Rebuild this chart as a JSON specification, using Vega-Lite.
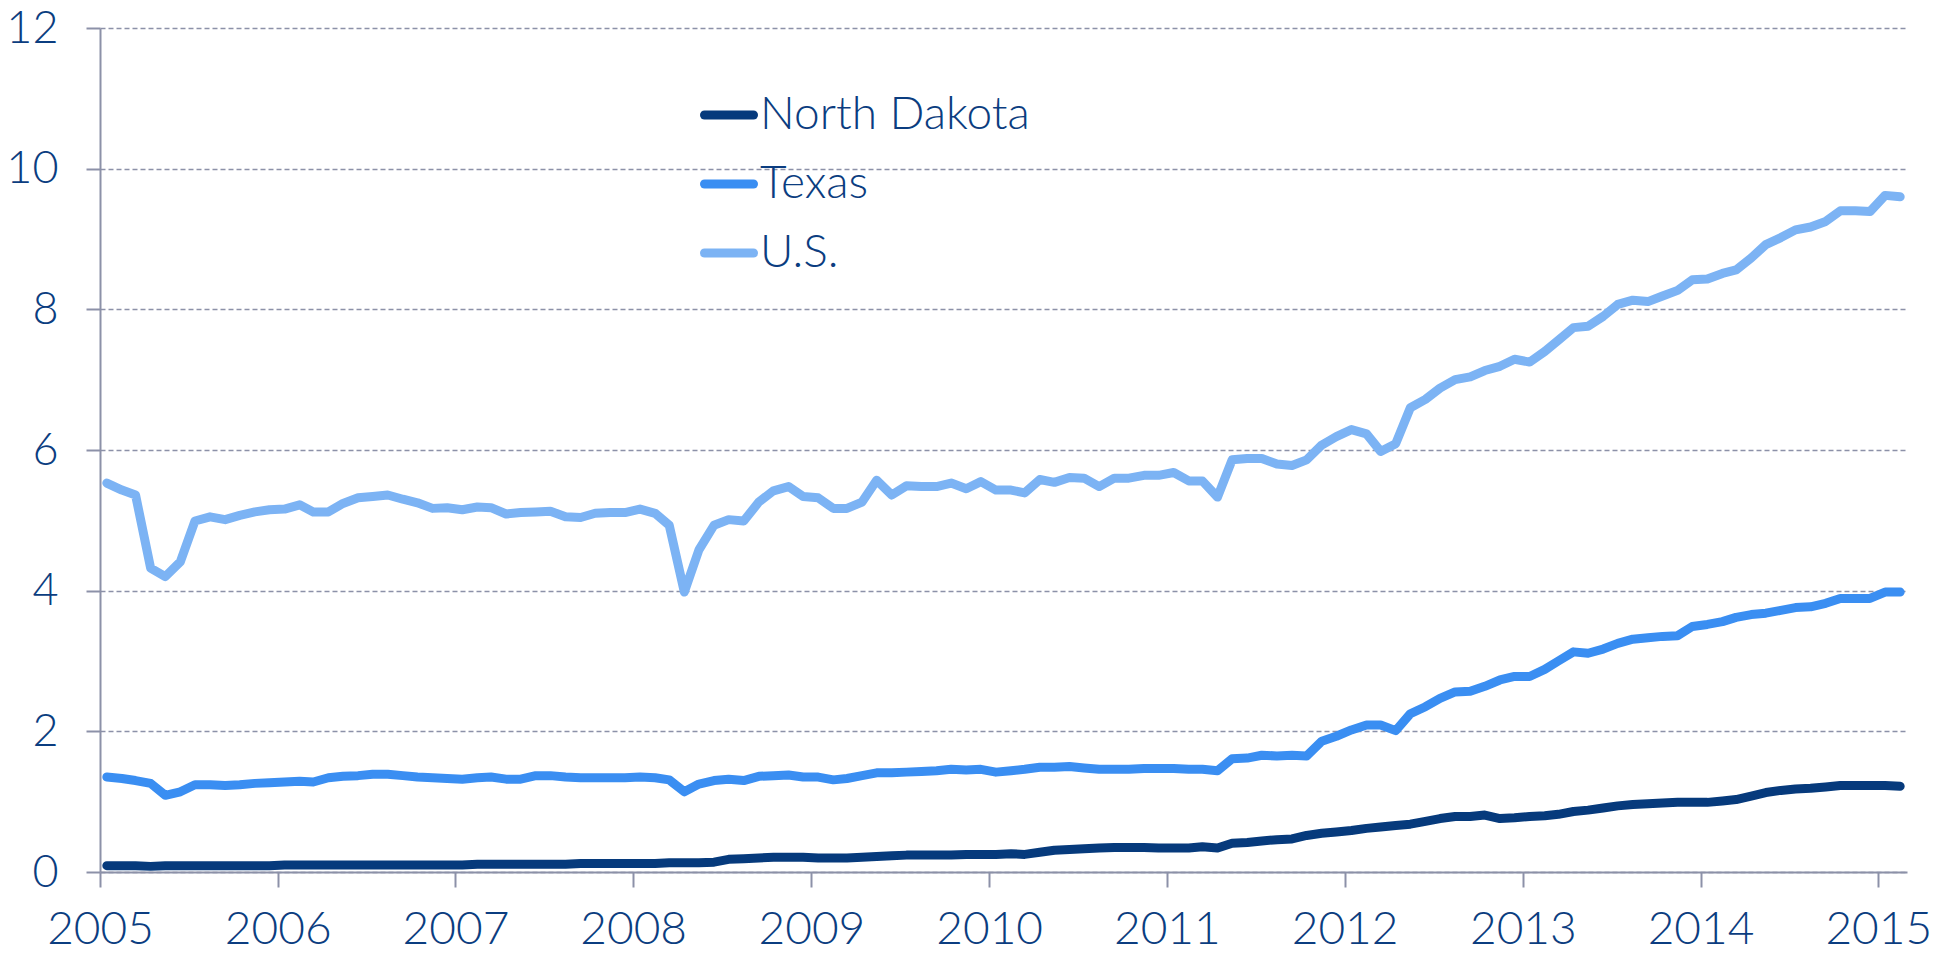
{
"$schema":"https://vega.github.io/schema/vega-lite/v6.json",
"width":1807,"height":844,
"autosize":{"type":"none"},
"padding":{"left":100,"top":28,"right":49,"bottom":81},
"background":"white",
"config":{"view":{"stroke":null},"font":"Lato"},
"data":{"values":[
{"date":"2005-01-15","ND":0.09,"TX":1.35,"US":5.53},
{"date":"2005-02-15","ND":0.09,"TX":1.33,"US":5.43},
{"date":"2005-03-15","ND":0.09,"TX":1.30,"US":5.36},
{"date":"2005-04-15","ND":0.08,"TX":1.26,"US":4.32},
{"date":"2005-05-15","ND":0.09,"TX":1.09,"US":4.20},
{"date":"2005-06-15","ND":0.09,"TX":1.14,"US":4.41},
{"date":"2005-07-15","ND":0.09,"TX":1.24,"US":4.99},
{"date":"2005-08-15","ND":0.09,"TX":1.24,"US":5.05},
{"date":"2005-09-15","ND":0.09,"TX":1.23,"US":5.01},
{"date":"2005-10-15","ND":0.09,"TX":1.24,"US":5.07},
{"date":"2005-11-15","ND":0.09,"TX":1.26,"US":5.12},
{"date":"2005-12-15","ND":0.09,"TX":1.27,"US":5.15},
{"date":"2006-01-15","ND":0.10,"TX":1.28,"US":5.16},
{"date":"2006-02-15","ND":0.10,"TX":1.29,"US":5.22},
{"date":"2006-03-15","ND":0.10,"TX":1.28,"US":5.12},
{"date":"2006-04-15","ND":0.10,"TX":1.34,"US":5.12},
{"date":"2006-05-15","ND":0.10,"TX":1.36,"US":5.24},
{"date":"2006-06-15","ND":0.10,"TX":1.37,"US":5.32},
{"date":"2006-07-15","ND":0.10,"TX":1.39,"US":5.34},
{"date":"2006-08-15","ND":0.10,"TX":1.39,"US":5.36},
{"date":"2006-09-15","ND":0.10,"TX":1.37,"US":5.30},
{"date":"2006-10-15","ND":0.10,"TX":1.35,"US":5.25},
{"date":"2006-11-15","ND":0.10,"TX":1.34,"US":5.17},
{"date":"2006-12-15","ND":0.10,"TX":1.33,"US":5.18},
{"date":"2007-01-15","ND":0.10,"TX":1.32,"US":5.15},
{"date":"2007-02-15","ND":0.11,"TX":1.34,"US":5.19},
{"date":"2007-03-15","ND":0.11,"TX":1.35,"US":5.18},
{"date":"2007-04-15","ND":0.11,"TX":1.32,"US":5.09},
{"date":"2007-05-15","ND":0.11,"TX":1.32,"US":5.11},
{"date":"2007-06-15","ND":0.11,"TX":1.37,"US":5.12},
{"date":"2007-07-15","ND":0.11,"TX":1.37,"US":5.13},
{"date":"2007-08-15","ND":0.11,"TX":1.35,"US":5.05},
{"date":"2007-09-15","ND":0.12,"TX":1.34,"US":5.04},
{"date":"2007-10-15","ND":0.12,"TX":1.34,"US":5.10},
{"date":"2007-11-15","ND":0.12,"TX":1.34,"US":5.11},
{"date":"2007-12-15","ND":0.12,"TX":1.34,"US":5.11},
{"date":"2008-01-15","ND":0.12,"TX":1.35,"US":5.16},
{"date":"2008-02-15","ND":0.12,"TX":1.34,"US":5.10},
{"date":"2008-03-15","ND":0.13,"TX":1.31,"US":4.93},
{"date":"2008-04-15","ND":0.13,"TX":1.14,"US":3.98},
{"date":"2008-05-15","ND":0.13,"TX":1.25,"US":4.58},
{"date":"2008-06-15","ND":0.14,"TX":1.30,"US":4.93},
{"date":"2008-07-15","ND":0.18,"TX":1.32,"US":5.01},
{"date":"2008-08-15","ND":0.19,"TX":1.30,"US":4.99},
{"date":"2008-09-15","ND":0.20,"TX":1.36,"US":5.26},
{"date":"2008-10-15","ND":0.21,"TX":1.37,"US":5.42},
{"date":"2008-11-15","ND":0.21,"TX":1.38,"US":5.48},
{"date":"2008-12-15","ND":0.21,"TX":1.35,"US":5.34},
{"date":"2009-01-15","ND":0.20,"TX":1.35,"US":5.32},
{"date":"2009-02-15","ND":0.20,"TX":1.31,"US":5.17},
{"date":"2009-03-15","ND":0.20,"TX":1.33,"US":5.17},
{"date":"2009-04-15","ND":0.21,"TX":1.37,"US":5.26},
{"date":"2009-05-15","ND":0.22,"TX":1.41,"US":5.57},
{"date":"2009-06-15","ND":0.23,"TX":1.41,"US":5.36},
{"date":"2009-07-15","ND":0.24,"TX":1.42,"US":5.49},
{"date":"2009-08-15","ND":0.24,"TX":1.43,"US":5.48},
{"date":"2009-09-15","ND":0.24,"TX":1.44,"US":5.48},
{"date":"2009-10-15","ND":0.24,"TX":1.46,"US":5.53},
{"date":"2009-11-15","ND":0.25,"TX":1.45,"US":5.45},
{"date":"2009-12-15","ND":0.25,"TX":1.46,"US":5.55},
{"date":"2010-01-15","ND":0.25,"TX":1.42,"US":5.43},
{"date":"2010-02-15","ND":0.26,"TX":1.44,"US":5.43},
{"date":"2010-03-15","ND":0.25,"TX":1.46,"US":5.39},
{"date":"2010-04-15","ND":0.28,"TX":1.49,"US":5.58},
{"date":"2010-05-15","ND":0.31,"TX":1.49,"US":5.54},
{"date":"2010-06-15","ND":0.32,"TX":1.50,"US":5.61},
{"date":"2010-07-15","ND":0.33,"TX":1.48,"US":5.60},
{"date":"2010-08-15","ND":0.34,"TX":1.46,"US":5.48},
{"date":"2010-09-15","ND":0.35,"TX":1.46,"US":5.60},
{"date":"2010-10-15","ND":0.35,"TX":1.46,"US":5.60},
{"date":"2010-11-15","ND":0.35,"TX":1.47,"US":5.64},
{"date":"2010-12-15","ND":0.34,"TX":1.47,"US":5.64},
{"date":"2011-01-15","ND":0.34,"TX":1.47,"US":5.68},
{"date":"2011-02-15","ND":0.34,"TX":1.46,"US":5.56},
{"date":"2011-03-15","ND":0.36,"TX":1.46,"US":5.56},
{"date":"2011-04-15","ND":0.34,"TX":1.44,"US":5.33},
{"date":"2011-05-15","ND":0.41,"TX":1.61,"US":5.86},
{"date":"2011-06-15","ND":0.42,"TX":1.62,"US":5.88},
{"date":"2011-07-15","ND":0.44,"TX":1.66,"US":5.88},
{"date":"2011-08-15","ND":0.46,"TX":1.65,"US":5.80},
{"date":"2011-09-15","ND":0.47,"TX":1.66,"US":5.78},
{"date":"2011-10-15","ND":0.52,"TX":1.65,"US":5.86},
{"date":"2011-11-15","ND":0.55,"TX":1.86,"US":6.07},
{"date":"2011-12-15","ND":0.57,"TX":1.93,"US":6.19},
{"date":"2012-01-15","ND":0.59,"TX":2.02,"US":6.29},
{"date":"2012-02-15","ND":0.62,"TX":2.09,"US":6.23},
{"date":"2012-03-15","ND":0.64,"TX":2.09,"US":5.98},
{"date":"2012-04-15","ND":0.66,"TX":2.01,"US":6.09},
{"date":"2012-05-15","ND":0.68,"TX":2.25,"US":6.60},
{"date":"2012-06-15","ND":0.72,"TX":2.35,"US":6.72},
{"date":"2012-07-15","ND":0.76,"TX":2.47,"US":6.88},
{"date":"2012-08-15","ND":0.79,"TX":2.56,"US":7.00},
{"date":"2012-09-15","ND":0.79,"TX":2.57,"US":7.04},
{"date":"2012-10-15","ND":0.81,"TX":2.64,"US":7.13},
{"date":"2012-11-15","ND":0.76,"TX":2.73,"US":7.19},
{"date":"2012-12-15","ND":0.77,"TX":2.78,"US":7.29},
{"date":"2013-01-15","ND":0.79,"TX":2.78,"US":7.25},
{"date":"2013-02-15","ND":0.80,"TX":2.88,"US":7.40},
{"date":"2013-03-15","ND":0.82,"TX":3.00,"US":7.56},
{"date":"2013-04-15","ND":0.86,"TX":3.13,"US":7.74},
{"date":"2013-05-15","ND":0.88,"TX":3.11,"US":7.76},
{"date":"2013-06-15","ND":0.91,"TX":3.17,"US":7.90},
{"date":"2013-07-15","ND":0.94,"TX":3.25,"US":8.07},
{"date":"2013-08-15","ND":0.96,"TX":3.31,"US":8.13},
{"date":"2013-09-15","ND":0.97,"TX":3.33,"US":8.11},
{"date":"2013-10-15","ND":0.98,"TX":3.35,"US":8.19},
{"date":"2013-11-15","ND":0.99,"TX":3.36,"US":8.27},
{"date":"2013-12-15","ND":0.99,"TX":3.49,"US":8.42},
{"date":"2014-01-15","ND":0.99,"TX":3.52,"US":8.43},
{"date":"2014-02-15","ND":1.01,"TX":3.56,"US":8.51},
{"date":"2014-03-15","ND":1.03,"TX":3.62,"US":8.56},
{"date":"2014-04-15","ND":1.08,"TX":3.66,"US":8.73},
{"date":"2014-05-15","ND":1.13,"TX":3.68,"US":8.92},
{"date":"2014-06-15","ND":1.16,"TX":3.72,"US":9.02},
{"date":"2014-07-15","ND":1.18,"TX":3.76,"US":9.13},
{"date":"2014-08-15","ND":1.19,"TX":3.77,"US":9.17},
{"date":"2014-09-15","ND":1.21,"TX":3.82,"US":9.25},
{"date":"2014-10-15","ND":1.23,"TX":3.89,"US":9.40},
{"date":"2014-11-15","ND":1.23,"TX":3.89,"US":9.40},
{"date":"2014-12-15","ND":1.23,"TX":3.89,"US":9.39},
{"date":"2015-01-15","ND":1.23,"TX":3.98,"US":9.62},
{"date":"2015-02-15","ND":1.22,"TX":3.98,"US":9.60}
]},
"transform":[{"fold":["ND","TX","US"],"as":["series","value"]}],
"mark":{"type":"line","strokeWidth":9,"strokeCap":"round","strokeJoin":"round"},
"encoding":{
"x":{"field":"date","type":"temporal",
 "scale":{"domain":["2005-01-01","2015-03-01"]},
 "axis":{"title":null,"format":"%Y","tickCount":{"interval":"year","step":1},"grid":false,
  "domainColor":"#8c91a8","domainWidth":2,"tickColor":"#8c91a8","tickWidth":2,"tickSize":15,
  "labelFont":"Lato","labelFontSize":46,"labelFontWeight":300,"labelColor":"#0b3d80","labelPadding":20,
  "labelFlush":false,"labelOverlap":false}},
"y":{"field":"value","type":"quantitative",
 "scale":{"domain":[0,12],"nice":false},
 "axis":{"title":null,"values":[0,2,4,6,8,10,12],"grid":true,"gridDash":[5,3],"gridColor":"#8c91a8","gridWidth":1.5,
  "domainColor":"#8c91a8","domainWidth":2,"tickColor":"#8c91a8","tickWidth":2,"tickSize":14,
  "labelFont":"Lato","labelFontSize":45,"labelFontWeight":300,"labelColor":"#0b3d80","labelPadding":28}},
"color":{"field":"series","type":"nominal",
 "scale":{"domain":["ND","TX","US"],"range":["#063a7c","#3a8ef2","#7cb3f4"]},
 "legend":{"orient":"none","legendX":600,"legendY":58,"title":null,"symbolType":"stroke","symbolSize":2401,
  "symbolStrokeWidth":9,"labelFont":"Lato","labelFontSize":46,"labelFontWeight":300,"labelColor":"#0b3d80",
  "rowPadding":17,"labelOffset":2,"labelLimit":600,
  "labelExpr":"datum.label == 'ND' ? 'North Dakota' : datum.label == 'TX' ? 'Texas' : 'U.S.'",
  "encode":{"symbols":{"update":{"strokeCap":{"value":"round"}}}}}}
}
}
